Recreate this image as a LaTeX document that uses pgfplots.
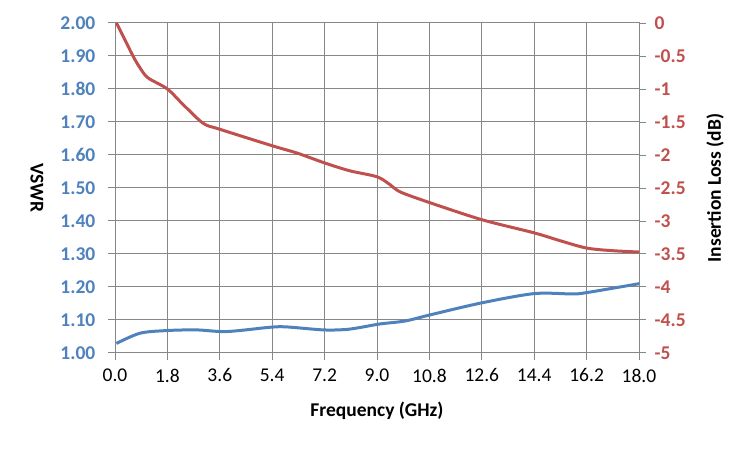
\documentclass[border=0pt]{standalone}
\usepackage{pgfplots}
\pgfplotsset{compat=1.18}
\usepackage{fontspec}
\setmainfont{Carlito}
\definecolor{vblue}{HTML}{4F81BD}
\definecolor{ired}{HTML}{C0504D}
\definecolor{gridc}{HTML}{878787}
\newcommand{\fs}{\fontsize{19.5bp}{23bp}\selectfont}
\begin{document}
\fs
\begin{tikzpicture}
\path[use as bounding box] (0,0) rectangle (750bp,450bp);
\begin{axis}[
  at={(115bp,97bp)}, anchor=south west,
  scale only axis, width=524bp, height=330bp,
  xmin=0, xmax=18, ymin=1, ymax=2,
  xtick={0,1.8,3.6,5.4,7.2,9,10.8,12.6,14.4,16.2,18},
  xticklabels={0.0,1.8,3.6,5.4,7.2,9.0,10.8,12.6,14.4,16.2,18.0},
  ytick={1,1.1,1.2,1.3,1.4,1.5,1.6,1.7,1.8,1.9,2},
  yticklabels={1.00,1.10,1.20,1.30,1.40,1.50,1.60,1.70,1.80,1.90,2.00},
  yticklabel style={font=\fs\bfseries, text=vblue, xshift=-6bp},
  xticklabel style={font=\fs, yshift=-2bp},
  tick align=outside, tick pos=left,
  major tick length=7bp,
  tick style={gridc, line width=1bp},
  axis line style={gridc, line width=1bp},
  grid=major, major grid style={gridc, line width=1bp},
  xlabel={Frequency (GHz)},
  xlabel style={font=\fs\bfseries, at={(axis description cs:0.5,-0.176)}, anchor=center},
  ylabel={VSWR},
  ylabel style={font=\fs\bfseries, at={(axis description cs:-0.149,0.5)}, anchor=center, rotate=180},
]
\addplot[vblue, line width=3bp, smooth] coordinates {
(0.05,1.029) (0.86,1.06) (1.78,1.068) (2.8,1.07) (3.84,1.065) (5.33,1.078) (5.9,1.079)
(7.15,1.07) (7.9,1.071) (8.4,1.077) (9.1,1.088) (9.97,1.097) (10.8,1.115) (12.6,1.152)
(14.4,1.18) (15.7,1.179) (16.2,1.183) (18,1.21)
};
\end{axis}
\begin{axis}[
  at={(115bp,97bp)}, anchor=south west,
  scale only axis, width=524bp, height=330bp,
  xmin=0, xmax=18, ymin=-5, ymax=0,
  axis x line=none, axis y line*=right,
  ytick={-5,-4.5,-4,-3.5,-3,-2.5,-2,-1.5,-1,-0.5,0},
  yticklabels={-5,-4.5,-4,-3.5,-3,-2.5,-2,-1.5,-1,-0.5,0},
  yticklabel style={font=\fs\bfseries, text=ired, xshift=2bp},
  tick align=outside,
  major tick length=7bp,
  tick style={gridc, line width=1bp},
  axis line style={gridc, line width=1bp},
  ylabel={Insertion Loss (dB)},
  ylabel style={font=\fs\bfseries, at={(axis description cs:1.145,0.5)}, anchor=center},
]
\addplot[ired, line width=3bp, smooth] coordinates {
(0.05,0) (0.29,-0.21) (0.63,-0.51) (0.86,-0.68) (1.13,-0.83) (1.8,-1.0) (2.35,-1.24)
(3.03,-1.52) (3.6,-1.61) (5.4,-1.86) (6.25,-1.97) (7.2,-2.12) (8.07,-2.24) (9.0,-2.33)
(9.45,-2.45) (9.8,-2.56) (10.8,-2.72) (12.6,-2.98) (14.4,-3.18) (15.3,-3.3) (16.2,-3.41)
(17.1,-3.45) (18,-3.47)
};
\end{axis}
\end{tikzpicture}
\end{document}
